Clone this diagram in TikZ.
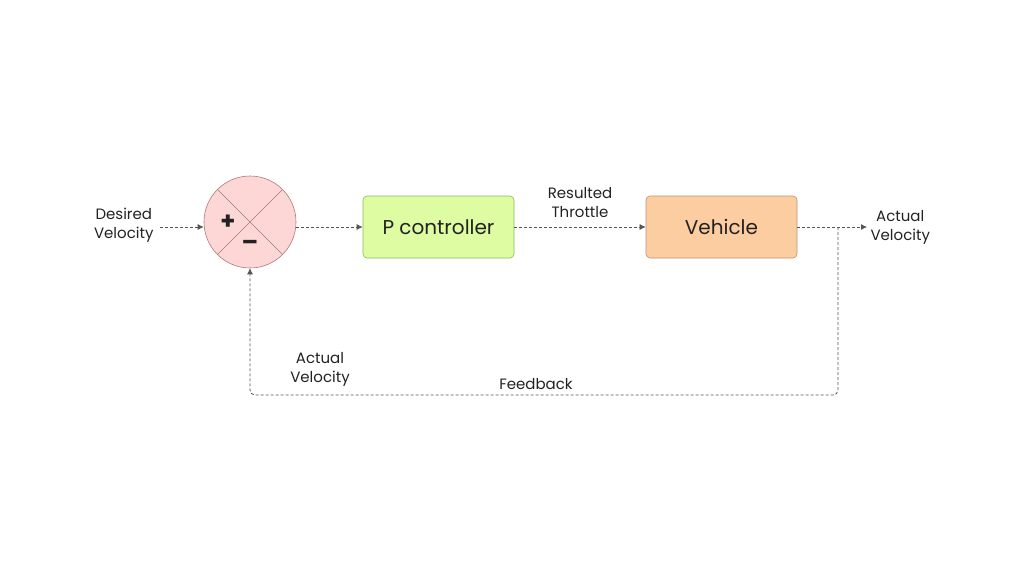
\documentclass[tikz,border=0pt]{standalone}
\usepackage{fontspec}
\setmainfont{Poppins}
\usetikzlibrary{arrows.meta}
\definecolor{sumfill}{HTML}{FDD6D6}
\definecolor{sumdraw}{HTML}{B07878}
\definecolor{pfill}{HTML}{DEFCA2}
\definecolor{pdraw}{HTML}{8DB860}
\definecolor{vfill}{HTML}{FDCDA2}
\definecolor{vdraw}{HTML}{C09070}
\definecolor{txt}{HTML}{222222}
\definecolor{linec}{HTML}{555555}
\begin{document}
\begin{tikzpicture}[x=1pt,y=-1pt,
  conn/.style={draw=linec,line width=0.8pt,dash pattern=on 3pt off 2pt,-{Latex[length=6pt,width=6pt]}},
  blockbox/.style={rounded corners=4pt,line width=0.6pt,minimum width=151pt,minimum height=62pt,font=\fontsize{20}{22}\selectfont,text=txt,inner sep=0pt},
  lbl/.style={font=\fontsize{15}{19}\selectfont,text=txt,align=center},
  sign/.style={font=\fontsize{24}{24}\bfseries\selectfont,text=txt,inner sep=0pt}]
\useasboundingbox (0,0) rectangle (1024,576);
\node[circle,fill=sumfill,draw=sumdraw,line width=0.6pt,minimum size=92pt,inner sep=0pt] (sum) at (250,222) {};
\draw[sumdraw,line width=0.6pt] (sum.45) -- (sum.225) (sum.135) -- (sum.315);
\node[sign] (plus) at (228,222) {+};
\node[sign] (minus) at (250,245) {–};
\node[blockbox,fill=pfill,draw=pdraw] (pc) at (438.5,227) {P controller};
\node[blockbox,fill=vfill,draw=vdraw] (veh) at (721.5,227) {Vehicle};
\node[lbl,anchor=east] (des) at (157,225) {Desired\\Velocity};
\node[lbl,anchor=west] (act) at (867,227) {Actual\\Velocity};
\node[lbl] (thr) at (580,203) {Resulted\\Throttle};
\node[lbl] (act2) at (320,369) {Actual\\Velocity};
\node[lbl] (fb) at (536,384) {Feedback};
\coordinate (dstart) at (160,227);
\coordinate (branch) at (838,227);
\coordinate (c1) at (838,395);
\coordinate (c2) at (250,395);
\draw[conn] (dstart) -- (sum.west |- dstart);
\draw[conn] (sum.east |- pc.west) -- (pc.west);
\draw[conn] (pc.east) -- (veh.west);
\draw[conn] (veh.east) -- (act.west);
\draw[conn,rounded corners=5pt] (branch) -- (c1) -- (c2) -- (sum.south);
\end{tikzpicture}
\end{document}
